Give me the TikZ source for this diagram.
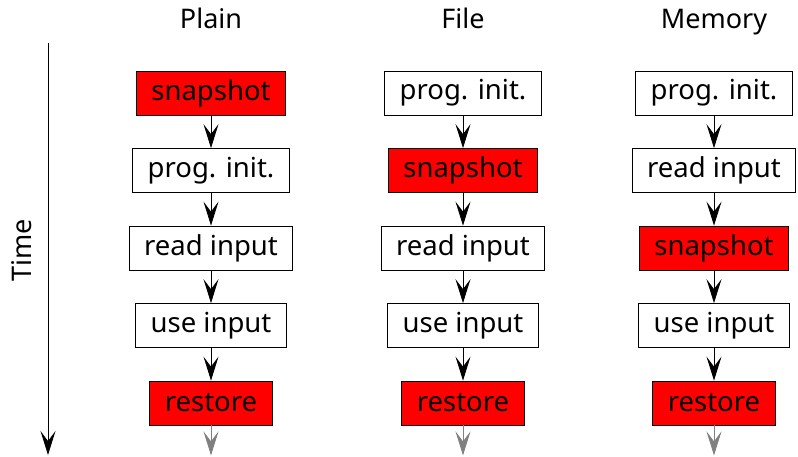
\documentclass[tikz,border=0pt]{standalone}
\usepackage{fontspec}
\setmainfont{Noto Sans}
\usetikzlibrary{arrows.meta,positioning,calc}

\begin{document}
\begin{tikzpicture}[x=1pt,y=-1pt,node distance=77.5pt,
    >={Stealth[length=24pt,width=15pt,inset=10pt]},
    stage/.style={draw,thick,fill=white,minimum height=44pt,inner xsep=15pt,
      inner ysep=2pt,font=\fontsize{27.5}{30}\selectfont},
    hot/.style={stage,fill=red},
    head/.style={anchor=base,font=\fontsize{27}{30}\selectfont},
    flow/.style={->,thick,black},
    tail/.style={->,thick,gray}]

  \useasboundingbox (0,0) rectangle (798,456);

  % column headers
  \node[head] (hplain) at (211,28) {Plain};
  \node[head] (hfile) at (463,28) {File};
  \node[head] (hmem) at (714,28) {Memory};

  % time axis
  \coordinate (t0) at (48,43);
  \coordinate (t1) at (48,455);
  \draw[flow] (t0) -- (t1);
  \node[font=\fontsize{27}{30}\selectfont,rotate=90] (time) at (22,250) {Time};

  % plain
  \node[hot] (p1) at (211,93) {snapshot};
  \node[stage] (p2) [below of=p1] {prog. init.};
  \node[stage] (p3) [below of=p2] {read input};
  \node[stage] (p4) [below of=p3] {use input};
  \node[hot] (p5) [below of=p4] {restore};

  % file
  \node[stage] (f1) at (463,93) {prog. init.};
  \node[hot] (f2) [below of=f1] {snapshot};
  \node[stage] (f3) [below of=f2] {read input};
  \node[stage] (f4) [below of=f3] {use input};
  \node[hot] (f5) [below of=f4] {restore};

  % memory
  \node[stage] (m1) at (714,93) {prog. init.};
  \node[stage] (m2) [below of=m1] {read input};
  \node[hot] (m3) [below of=m2] {snapshot};
  \node[stage] (m4) [below of=m3] {use input};
  \node[hot] (m5) [below of=m4] {restore};

  \foreach \c in {p,f,m}{
    \foreach \i [evaluate=\i as \j using int(\i+1)] in {1,...,4}
      \draw[flow] (\c\i.south) -- (\c\j.north);
    \coordinate (\c end) at ($(\c5.south)+(0,30)$);
    \draw[tail] (\c5.south) -- (\c end);
  }
\end{tikzpicture}
\end{document}
